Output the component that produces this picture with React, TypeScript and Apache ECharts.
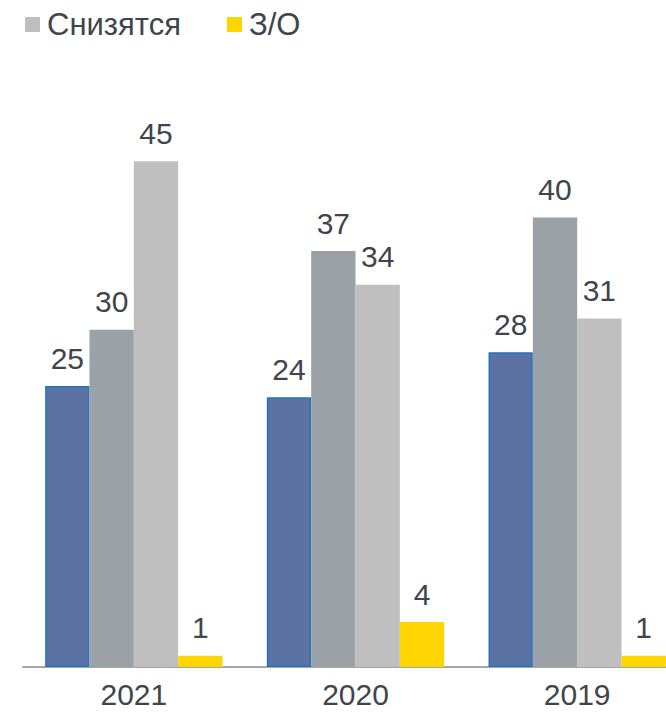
import React, { useEffect, useRef } from "react";
import * as echarts from "echarts";

const categories = ["2021", "2020", "2019"];
const seriesNames = ["Вырастут", "Не изменятся", "Снизятся", "З/О"];
const valuesA = [25, 24, 28];
const valuesB = [30, 37, 40];
const valuesC = [45, 34, 31];
const valuesD = [1, 4, 1];
const legendItems = ["Снизятся", "З/О"];

const colors = ["#5b72a3", "#9aa1a7", "#bfbfbf", "#ffd500"];
const FONT = "'Liberation Sans', Arial, sans-serif";
const TEXT = "#40454b";

export default function App() {
  const ref = useRef<HTMLDivElement>(null);
  useEffect(() => {
    document.body.style.margin = "0";
    const chart = echarts.init(ref.current!, undefined, { renderer: "svg" });
    const data = [valuesA, valuesB, valuesC, valuesD];
    chart.setOption({
      animation: false,
      textStyle: { fontFamily: FONT },
      legend: {
        data: legendItems,
        left: 20,
        top: 4,
        itemWidth: 15,
        itemHeight: 15,
        itemGap: 46,
        icon: "rect",
        textStyle: { fontSize: 31, color: TEXT, fontFamily: FONT, padding: [0, 0, 0, 2] },
      },
      grid: { left: 23, right: 12, top: 105, bottom: 47 },
      xAxis: {
        type: "category",
        data: categories,
        axisLine: { lineStyle: { color: "#a6a6a6", width: 2 } },
        axisTick: { show: false },
        axisLabel: { fontSize: 30, color: TEXT, fontFamily: FONT, margin: 12 },
      },
      yAxis: { type: "value", min: 0, max: 50, show: false, splitLine: { show: false } },
      series: seriesNames.map((name, i) => ({
        name,
        type: "bar",
        data: data[i],
        barGap: "0%",
        barCategoryGap: "20%",
        itemStyle: {
          color: colors[i],
          borderColor: i === 0 ? "#1f74c4" : undefined,
          borderWidth: i === 0 ? 1.5 : 0,
        },
        label: {
          show: true,
          position: "top",
          distance: 13,
          fontSize: 30,
          color: TEXT,
          fontFamily: FONT,
        },
      })),
    });
    return () => chart.dispose();
  }, []);
  return (
    <div style={{ position: "absolute", left: 0, top: 0, width: 666, height: 714, overflow: "hidden", background: "#fff" }}>
      <div ref={ref} style={{ width: 700, height: 714 }} />
    </div>
  );
}
